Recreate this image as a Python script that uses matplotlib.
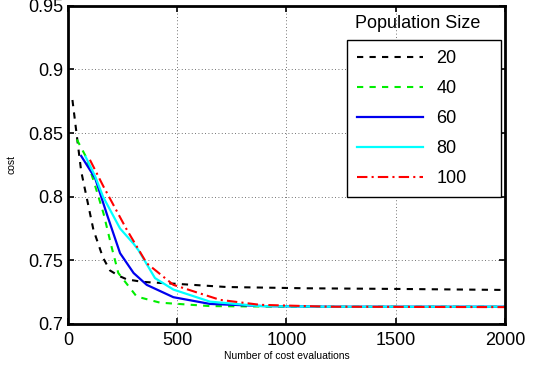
import matplotlib.pyplot as plt

plt.rcParams['font.family'] = ['Liberation Sans', 'DejaVu Sans']

# Population size 20
x20 = [20, 60, 116, 160, 192, 230, 269, 343, 497, 726, 1092, 1500, 2000]
y20 = [0.876, 0.820, 0.774, 0.752, 0.742, 0.738, 0.735, 0.733, 0.7315, 0.729, 0.728, 0.7275, 0.7267]
# Population size 40
x40 = [40, 80, 116, 162, 200, 230, 314, 421, 650, 1000, 1500, 2000]
y40 = [0.845, 0.832, 0.813, 0.787, 0.760, 0.740, 0.7215, 0.7167, 0.714, 0.7135, 0.7135, 0.7135]
# Population size 60
x60 = [60, 124, 180, 238, 300, 360, 482, 650, 900, 1200, 2000]
y60 = [0.832, 0.8145, 0.785, 0.7556, 0.740, 0.7307, 0.721, 0.7157, 0.7140, 0.7135, 0.7135]
# Population size 80
x80 = [80, 124, 160, 238, 300, 322, 398, 482, 650, 879, 1200, 2000]
y80 = [0.8315, 0.816, 0.800, 0.775, 0.763, 0.758, 0.736, 0.727, 0.7175, 0.7140, 0.7135, 0.7135]
# Population size 100
x100 = [100, 162, 269, 360, 482, 696, 879, 1200, 2000]
y100 = [0.829, 0.808, 0.774, 0.7477, 0.7307, 0.7189, 0.715, 0.7135, 0.7132]

labels = ['20', '40', '60', '80', '100']

fig = plt.figure(figsize=(5.36, 3.66), dpi=100)
ax = fig.add_axes([0.127, 0.115, 0.815, 0.869])

ax.plot(x20, y20, color='black', lw=1.5, linestyle=(0, (3, 3)), label=labels[0])
ax.plot(x40, y40, color='#00ee00', lw=1.5, linestyle=(0, (3, 3)), label=labels[1])
ax.plot(x60, y60, color='#0000ee', lw=1.6, linestyle='-', label=labels[2])
ax.plot(x80, y80, color='cyan', lw=1.6, linestyle='-', label=labels[3])
ax.plot(x100, y100, color='red', lw=1.5, linestyle=(0, (5, 2, 1, 2)), label=labels[4])

ax.set_xlim(0, 2000)
ax.set_ylim(0.7, 0.95)
ax.set_xticks([0, 500, 1000, 1500, 2000])
ax.set_xticklabels(['0', '500', '1000', '1500', '2000'])
ax.set_yticks([0.7, 0.75, 0.8, 0.85, 0.9, 0.95])
ax.set_yticklabels(['0.7', '0.75', '0.8', '0.85', '0.9', '0.95'])
ax.tick_params(direction='in', top=True, right=True, length=4, width=1.2,
               labelsize=13)
ax.tick_params(axis='x', pad=6)
ax.tick_params(axis='y', pad=3.5)
ax.grid(True, linestyle=(0, (1, 3)), color='#444444', lw=0.6)
for s in ax.spines.values():
    s.set_linewidth(2)

ax.set_xlabel('Number of cost evaluations', fontsize=7.5, labelpad=1.5)
ax.set_ylabel('cost', fontsize=7.5, labelpad=8)

leg = fig.legend(loc='upper left', bbox_to_anchor=(0.6474, 0.8907, 0.2873, 0),
                 mode='expand', borderaxespad=0,
                 fontsize=13, handlelength=3.65, labelspacing=0.72,
                 fancybox=False, framealpha=1, edgecolor='black',
                 borderpad=0.55, handletextpad=0.75)
leg.get_frame().set_linewidth(1.0)
fig.text(0.78, 0.937, 'Population Size', fontsize=13, ha='center', va='center')

fig.savefig('out.png', dpi=100)
